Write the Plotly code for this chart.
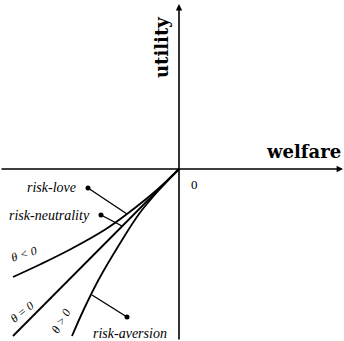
import plotly.graph_objects as go

# Utility of welfare for three attitudes towards risk (welfare <= 0 branch)
welfare_love = [0.0, -0.21, -0.52, -0.73, -1.08, -1.38, -1.66]
utility_love = [0.0, -0.20, -0.45, -0.60, -0.80, -0.95, -1.08]

welfare_neutral = [0.0, -1.66]
utility_neutral = [0.0, -1.67]

welfare_aversion = [0.0, -0.20, -0.40, -0.60, -0.80, -0.95, -1.07]
utility_aversion = [0.0, -0.21, -0.45, -0.76, -1.10, -1.40, -1.67]

curve_labels = ["θ < 0", "θ = 0", "θ > 0"]
curve_label_x = [-1.55, -1.57, -1.18]
curve_label_y = [-0.85, -1.43, -1.52]
curve_label_angle = [-18, -39, -60]

pointer_names = ["risk-love", "risk-neutrality", "risk-aversion"]
pointer_text_x = [-1.28, -1.30, -0.49]
pointer_text_y = [-0.18, -0.46, -1.64]
pointer_dot_x = [-0.91, -0.78, -0.52]
pointer_dot_y = [-0.19, -0.46, -1.48]
pointer_end_x = [-0.52, -0.57, -0.87]
pointer_end_y = [-0.45, -0.57, -1.26]

x_range = [-1.79, 1.65]
y_range = [-1.72, 1.69]

line_style = dict(color="black", width=1.8)

fig = go.Figure()
for wx, uy in [(welfare_love, utility_love),
               (welfare_neutral, utility_neutral),
               (welfare_aversion, utility_aversion)]:
    fig.add_trace(go.Scatter(x=wx, y=uy, mode="lines", line=line_style,
                             line_shape="spline", hoverinfo="skip",
                             showlegend=False))

# pointer segments from each label to its curve
for dx, dy, ex, ey in zip(pointer_dot_x, pointer_dot_y, pointer_end_x, pointer_end_y):
    fig.add_trace(go.Scatter(x=[dx, ex], y=[dy, ey], mode="lines",
                             line=dict(color="black", width=1.4),
                             hoverinfo="skip", showlegend=False))
fig.add_trace(go.Scatter(x=pointer_dot_x, y=pointer_dot_y, mode="markers",
                         marker=dict(color="black", size=5),
                         hoverinfo="skip", showlegend=False))

annotations = []
# coordinate axes with arrowheads
annotations.append(dict(x=x_range[1] - 0.01, y=0, ax=x_range[0], ay=0,
                        xref="x", yref="y", axref="x", ayref="y",
                        showarrow=True, arrowhead=2, arrowsize=0.8,
                        arrowwidth=1.6, arrowcolor="black", text=""))
annotations.append(dict(x=0, y=y_range[1] - 0.04, ax=0, ay=y_range[0],
                        xref="x", yref="y", axref="x", ayref="y",
                        showarrow=True, arrowhead=2, arrowsize=0.8,
                        arrowwidth=1.6, arrowcolor="black", text=""))

annotations.append(dict(x=-0.18, y=1.21, text="<b>utility</b>", textangle=-90,
                        showarrow=False,
                        font=dict(family="DejaVu Serif", size=18, color="black")))
annotations.append(dict(x=1.24, y=0.18, text="<b>welfare</b>", showarrow=False,
                        font=dict(family="DejaVu Serif", size=18, color="black")))
annotations.append(dict(x=0.15, y=-0.15, text="0", showarrow=False,
                        font=dict(family="Liberation Serif", size=13, color="black")))

for name, tx, ty in zip(pointer_names, pointer_text_x, pointer_text_y):
    annotations.append(dict(x=tx, y=ty, text=f"<i>{name}</i>", showarrow=False,
                            font=dict(family="Liberation Serif", size=14,
                                      color="black")))

for lab, lx, ly, ang in zip(curve_labels, curve_label_x, curve_label_y,
                            curve_label_angle):
    annotations.append(dict(x=lx, y=ly, text=f"<i>{lab}</i>", textangle=ang,
                            showarrow=False,
                            font=dict(family="Liberation Serif", size=12,
                                      color="black")))

fig.update_layout(
    width=344, height=341,
    margin=dict(l=0, r=0, t=0, b=0),
    paper_bgcolor="white", plot_bgcolor="white",
    xaxis=dict(range=x_range, visible=False, fixedrange=True),
    yaxis=dict(range=y_range, visible=False, fixedrange=True),
    annotations=annotations,
)

fig.write_html("out.html")
